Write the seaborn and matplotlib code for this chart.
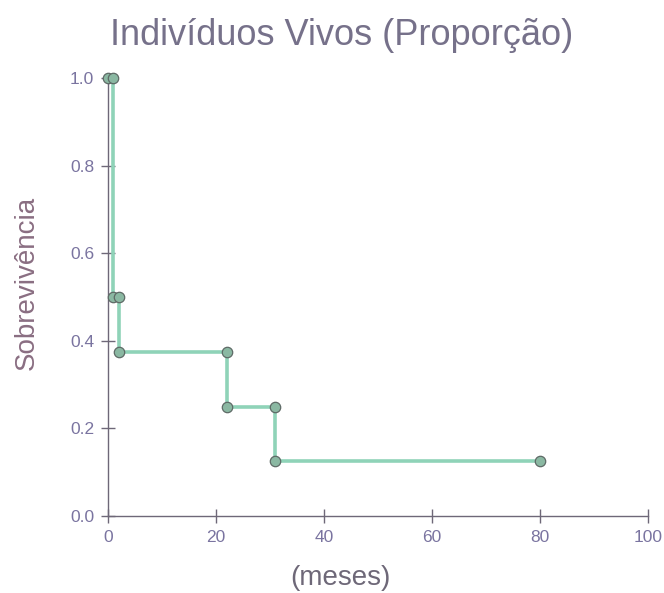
import matplotlib
matplotlib.use("Agg")
import matplotlib.pyplot as plt
import seaborn as sns
import pandas as pd

# Kaplan-Meier step path (time in months, survival proportion)
tempo = [0, 1, 1, 2, 2, 22, 22, 31, 31, 80]
sobrevivencia = [1.0, 1.0, 0.5, 0.5, 0.375, 0.375, 0.25, 0.25, 0.125, 0.125]
x_ticks = [0, 20, 40, 60, 80, 100]
y_ticks = [0.0, 0.2, 0.4, 0.6, 0.8, 1.0]

df = pd.DataFrame({"tempo": tempo, "sobrevivencia": sobrevivencia})

sns.set_style("white")
plt.rcParams["font.family"] = ["Liberation Sans", "DejaVu Sans"]

fig = plt.figure(figsize=(6.64, 5.93), dpi=100)
ax = fig.add_axes([0.1627, 0.1298, 0.8133, 0.7387])

axis_col = "#6e6878"
tick_col = "#7a74a0"

sns.lineplot(data=df, x="tempo", y="sobrevivencia", sort=False, estimator=None,
             errorbar=None, ax=ax,
             color="#8fd3b8", linewidth=2.6, marker="o", markersize=7.5,
             markerfacecolor="#8ab8a2", markeredgecolor="#5e6a66",
             markeredgewidth=0.9, clip_on=False, zorder=3)

ax.set_xlim(0, 100)
ax.set_ylim(0, 1.0)
ax.set_xticks(x_ticks)
ax.set_xticklabels([str(v) for v in x_ticks])
ax.set_yticks(y_ticks)
ax.set_yticklabels([f"{v:.1f}" for v in y_ticks])

for s in ["top", "right"]:
    ax.spines[s].set_visible(False)
for s in ["left", "bottom"]:
    ax.spines[s].set_color(axis_col)
    ax.spines[s].set_linewidth(1.0)

ax.tick_params(axis="both", bottom=True, left=True, direction="inout",
               length=10, width=1.0, color=axis_col, labelcolor=tick_col,
               labelsize=12.5, pad=5)

ax.set_xlabel("(meses)", fontsize=20, color="#6e6878")
ax.xaxis.set_label_coords(0.431, -0.142)
ax.xaxis.label.set_va("center")
ax.set_ylabel("Sobrevivência", fontsize=20, color="#8a6e82")
ax.yaxis.set_label_coords(-0.15, 0.532)
ax.yaxis.label.set_va("center")
fig.suptitle("Indivíduos Vivos (Proporção)", fontsize=26, color="#76718a",
             x=0.514, y=0.94, va="center")

fig.savefig("out.png", dpi=100)
